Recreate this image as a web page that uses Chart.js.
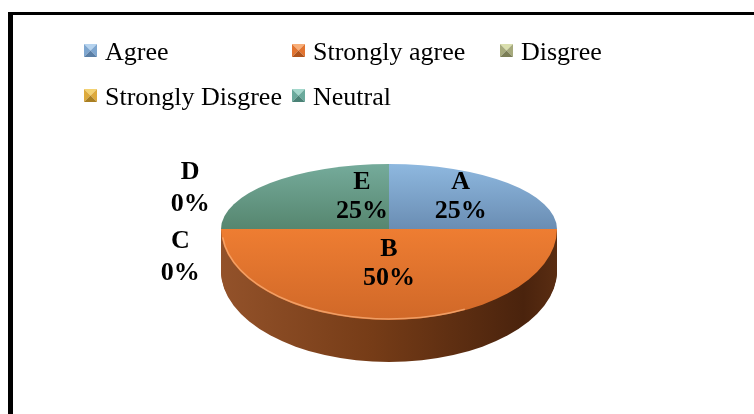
<!DOCTYPE html>
<html>
<head>
<meta charset="utf-8">
<script src="https://cdn.jsdelivr.net/npm/chart.js@4.4.1/dist/chart.umd.min.js"></script>
<style>
  html, body { margin: 0; padding: 0; background: #fff; overflow: hidden; }
  #frame { position: absolute; left: 8px; top: 12px; width: 760px; height: 420px;
           border-top: 3px solid #000; border-left: 5px solid #000; }
  #chart { position: absolute; left: 0; top: 0; }
</style>
</head>
<body>
<div id="frame"></div>
<canvas id="chart" width="754" height="414"></canvas>
<script>
const categories = ["Agree", "Strongly agree", "Disgree", "Strongly Disgree", "Neutral"];
const codes = ["A", "B", "C", "D", "E"];
const shares = [25, 50, 0, 0, 25];

// face gradient [light, dark] and legend bevel [light, mid, dark]
const faceColors = [
  ["#8eb8df", "#6a8db3"],
  ["#ee7d32", "#d06828"],
  ["#b3b68a", "#8b8e63"],
  ["#ebb64a", "#c2902c"],
  ["#75ab9b", "#56866f"]
];
const boxColors = [
  ["#b5d3ef", "#7ea6cf", "#5a7fa6"],
  ["#f8ae78", "#e27430", "#b0541c"],
  ["#dadfae", "#a6aa7c", "#7b7e56"],
  ["#f3d272", "#ddaa3c", "#a97f22"],
  ["#a3d8cc", "#6aaa9c", "#4a8276"]
];

const FONT = '"Liberation Serif", "Times New Roman", serif';

// draws one half of the pie squashed vertically, shifted down by `shift`
function drawHalf(chart, arcs, half, shift, scale, fillFor) {
  const ctx = chart.ctx;
  const cy = arcs[0].y;
  ctx.save();
  ctx.beginPath();
  if (half === "top") ctx.rect(0, 0, chart.width, cy + shift);
  else ctx.rect(0, cy + shift, chart.width, chart.height);
  ctx.clip();
  ctx.translate(0, cy + shift);
  ctx.scale(1, scale);
  ctx.translate(0, -cy);
  arcs.forEach((arc, i) => {
    const fake = Object.create(arc);
    fake.options = Object.assign({}, arc.options, { backgroundColor: fillFor(i), borderWidth: 0 });
    fake.draw(ctx);
  });
  ctx.restore();
}

const pie3d = {
  id: "pie3d",
  beforeDatasetsDraw(chart, args, opts) {
    const ctx = chart.ctx;
    const arcs = chart.getDatasetMeta(0).data;
    const { x: cx, y: cy, outerRadius: r } = arcs[0];
    const sTop = opts.topRy / r, sBot = opts.bottomRy / r;

    const side = ctx.createLinearGradient(cx - r, 0, cx + r, 0);
    side.addColorStop(0, "#93522a");
    side.addColorStop(0.45, "#763c17");
    side.addColorStop(0.9, "#4a230d");
    side.addColorStop(1, "#5a2d12");
    for (let d = opts.depth; d > 0; d--) {
      drawHalf(chart, arcs, "bottom", d, sBot, () => side);
    }

    drawHalf(chart, arcs, "top", 0, sTop, i => {
      const g = ctx.createLinearGradient(0, cy - r, 0, cy);
      g.addColorStop(0, faceColors[i][0]);
      g.addColorStop(1, faceColors[i][1]);
      return g;
    });
    drawHalf(chart, arcs, "bottom", 0, sBot, i => {
      const g = ctx.createLinearGradient(0, cy, 0, cy + r);
      g.addColorStop(0, faceColors[i][0]);
      g.addColorStop(1, faceColors[i][1]);
      return g;
    });

    // soft highlight along the front rim
    ctx.save();
    ctx.beginPath();
    ctx.ellipse(cx, cy, r - 1, opts.bottomRy - 1, 0, Math.PI * 0.35, Math.PI * 0.97);
    ctx.strokeStyle = "rgba(250,175,120,0.75)";
    ctx.lineWidth = 1.5;
    ctx.stroke();
    ctx.restore();
    return false;
  },
  afterDraw(chart, args, opts) {
    const ctx = chart.ctx;
    const arcs = chart.getDatasetMeta(0).data;
    const { x: cx, y: cy, outerRadius: r } = arcs[0];
    const total = shares.reduce((a, b) => a + b, 0);
    ctx.save();
    ctx.fillStyle = "#000";
    ctx.font = "bold 26px " + FONT;
    ctx.textAlign = "center";
    ctx.textBaseline = "middle";
    arcs.forEach((arc, i) => {
      const [shiftDeg, f] = opts.labels[i];
      const a = (arc.startAngle + arc.endAngle) / 2 + shiftDeg * Math.PI / 180;
      const ux = Math.cos(a) * f, uy = Math.sin(a) * f;
      const x = cx + ux * r;
      const y = cy + uy * (uy < 0 ? opts.topRy : opts.bottomRy);
      const gap = shares[i] === 0 ? 16 : 14.5;
      ctx.fillText(codes[i], x, y - gap);
      ctx.fillText(Math.round(shares[i] / total * 100) + "%", x, y + gap);
    });
    ctx.restore();
  }
};

function bevelBox(ctx, x, y, s, c) {
  const mx = x + s / 2, my = y + s / 2;
  const tri = (pts, col) => {
    ctx.beginPath();
    ctx.moveTo(pts[0], pts[1]);
    ctx.lineTo(pts[2], pts[3]);
    ctx.lineTo(mx, my);
    ctx.closePath();
    ctx.fillStyle = col;
    ctx.fill();
  };
  tri([x, y, x + s, y], c[0]);
  tri([x, y, x, y + s], c[1]);
  tri([x + s, y, x + s, y + s], c[1]);
  tri([x, y + s, x + s, y + s], c[2]);
}

const gridLegend = {
  id: "gridLegend",
  afterDraw(chart, args, opts) {
    const ctx = chart.ctx;
    ctx.save();
    ctx.font = "26px " + FONT;
    ctx.textBaseline = "alphabetic";
    categories.forEach((name, i) => {
      const col = i % opts.perRow, row = Math.floor(i / opts.perRow);
      const x = opts.left + col * opts.colWidth;
      const base = opts.top + row * opts.rowHeight;
      bevelBox(ctx, x, base - 16, 13, boxColors[i]);
      ctx.fillStyle = "#000";
      ctx.fillText(name, x + 21, base);
    });
    ctx.restore();
  }
};

new Chart(document.getElementById("chart").getContext("2d"), {
  type: "pie",
  data: {
    labels: categories,
    datasets: [{
      data: shares,
      backgroundColor: faceColors.map(c => c[0]),
      borderWidth: 0
    }]
  },
  options: {
    responsive: false,
    animation: false,
    layout: { padding: { left: 221, right: 197, top: 61, bottom: 17 } },
    plugins: {
      legend: { display: false },
      tooltip: { enabled: false },
      pie3d: {
        topRy: 65, bottomRy: 91, depth: 42,
        labels: [[-4, 0.65], [0, 0.385], [-14, 1.28], [28, 1.34], [27, 0.52]]
      },
      gridLegend: { left: 84, top: 60, colWidth: 208, rowHeight: 45, perRow: 3 }
    }
  },
  plugins: [pie3d, gridLegend]
});
</script>
</body>
</html>
